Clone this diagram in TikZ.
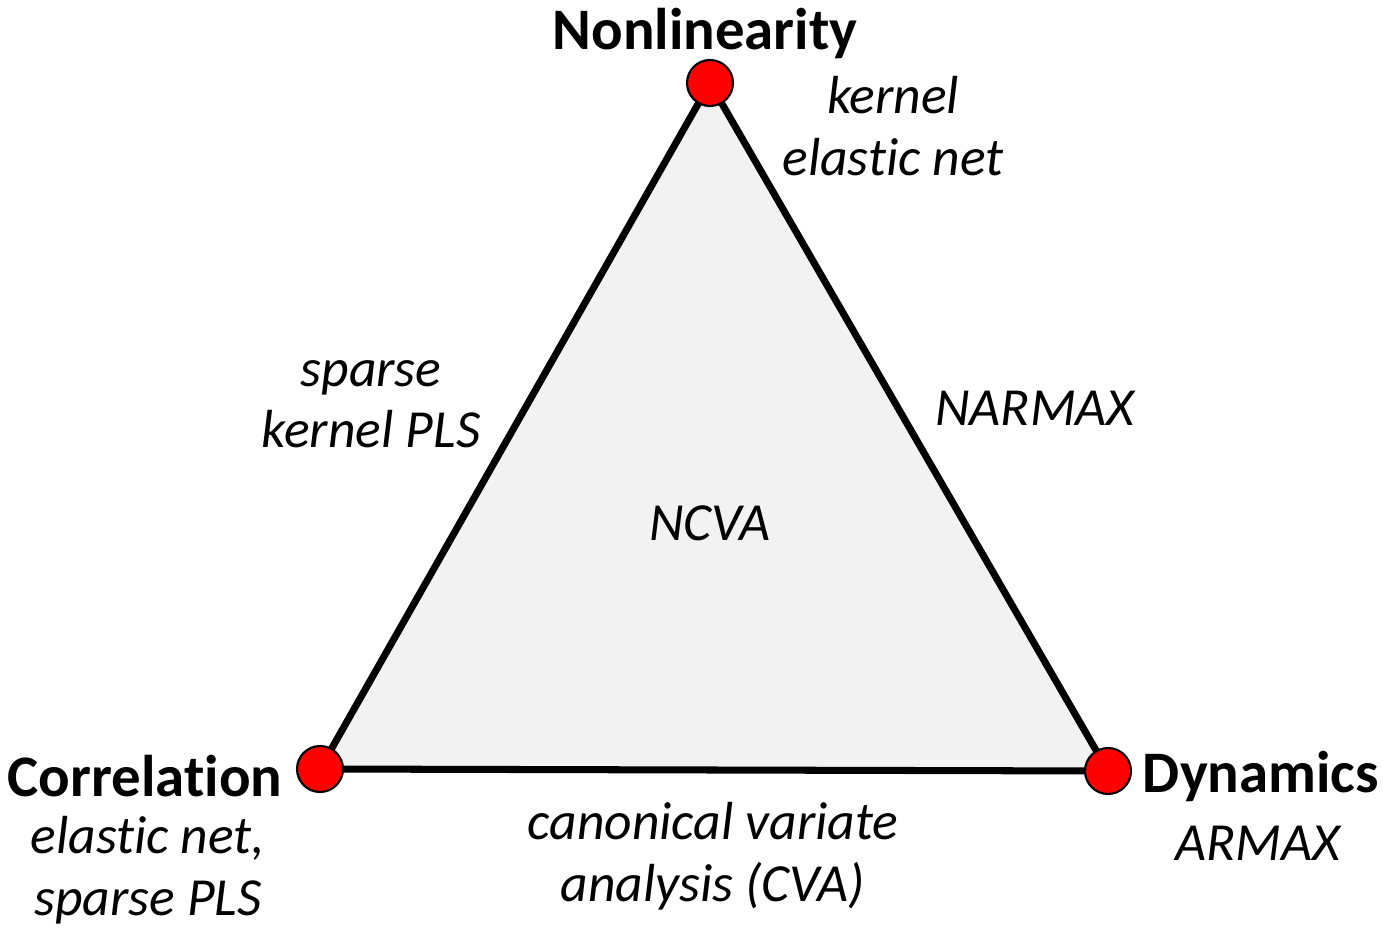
\documentclass[tikz,border=0pt]{standalone}
\usepackage{fontspec}
\setmainfont[Ligatures=NoCommon]{Carlito}
\usetikzlibrary{positioning}
\definecolor{trifill}{HTML}{F2F2F2}

\begin{document}
\begin{tikzpicture}[
    x=0.02cm, y=-0.02cm,
    vertex/.style={circle, draw=black, line width=1.2pt, fill=red, minimum size=0.92cm, inner sep=0pt},
    corner/.style={font=\fontsize{33.5}{40}\selectfont\bfseries},
    method/.style={font=\fontsize{30.5}{35}\selectfont\itshape, align=center},
    edge/.style={line width=4pt, line join=round, fill=trifill},
]
\useasboundingbox (0,0) rectangle (1383,929);

% Vertices
\coordinate (nonlinC) at (710,83);
\coordinate (corrC) at (320,769);
\coordinate (dynC) at (1108,771);

% Triangle
\draw[edge] (nonlinC) -- (corrC) -- (dynC) -- cycle;

\node[vertex] (nonlin) at (nonlinC) {};
\node[vertex] (corr) at (corrC) {};
\node[vertex] (dyn) at (dynC) {};

% Corner labels
\node[corner] (nonlinLabel) at (705,33) {Nonlinearity};
\node[corner] (corrLabel) at (145,776) {Correlation};
\node[corner] (dynLabel) at (1261,776) {Dynamics};

% Methods
\node[method] (kernelEN) at (893,126) {kernel\\elastic net};
\node[method] (sparseKPLS) at (371,404) {sparse\\kernel PLS};
\node[method] (narmax) at (1035,408) {NARMAX};
\node[method] (ncva) at (710,523) {NCVA};
\node[method] (enSPLS) at (148,870) {elastic net,\\sparse PLS};
\node[method] (cva) at (713,856) {canonical variate\\analysis (CVA)};
\node[method] (armax) at (1258,843) {ARMAX};

\end{tikzpicture}
\end{document}
